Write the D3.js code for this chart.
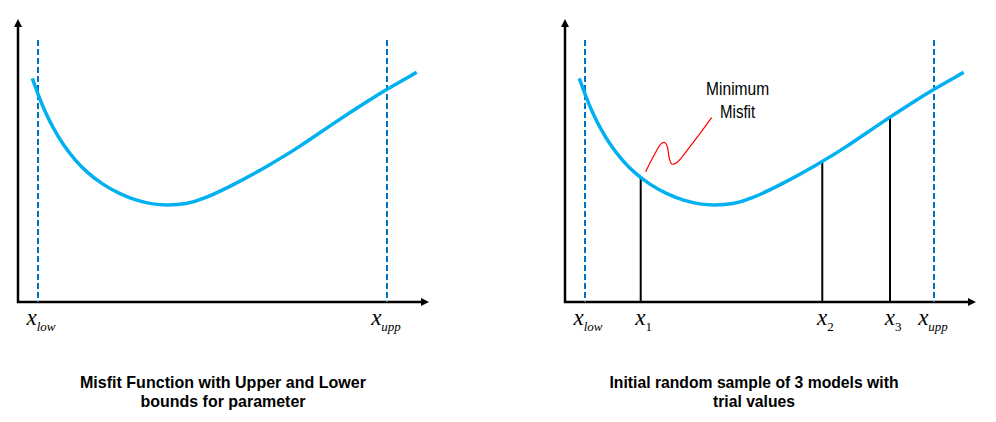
<!DOCTYPE html>
<html>
<head>
<meta charset="utf-8">
<script src="https://cdn.jsdelivr.net/npm/d3@7"></script>
<style>
  body { margin: 0; background: #fff; }
  svg { display: block; }
  .title { font-family: "Liberation Sans Narrow", "Arial Narrow", "Liberation Sans", sans-serif; font-weight: bold; font-size: 17px; fill: #000; }
  .note { font-family: "Liberation Sans Narrow", "Arial Narrow", "Liberation Sans", sans-serif; font-size: 19px; fill: #000; }
  .xlab { font-family: "Liberation Serif", "Times New Roman", serif; fill: #000; }
</style>
</head>
<body>
<div id="chart-container"></div>
<script>
// misfit curve (parameter, misfit)
var paramX  = [0.348, 0.494, 0.657, 0.859, 1.102, 1.387, 1.672, 2.075, 2.482, 2.888, 3.292, 3.618, 4.105, 4.50, 5.238, 6.051, 6.861, 7.672, 8.484, 8.971, 9.701];
var misfitY = [7.933, 7.340, 6.748, 6.160, 5.567, 5.035, 4.599, 4.149, 3.830, 3.592, 3.465, 3.429, 3.475, 3.64, 4.149, 4.798, 5.507, 6.337, 7.103, 7.543, 8.145];

// parameter bounds
var boundX = [0.487, 8.978];
var boundLabels = ["low", "upp"];

// trial models
var sampleX = [1.842, 6.26, 7.908];
var sampleMisfit = [4.43, 4.965, 6.55];
var sampleLabels = ["1", "2", "3"];

// red squiggle pointing at the minimum
var noteX = [1.964, 2.148, 2.353, 2.433, 2.489, 2.538, 2.596, 2.718, 3.041, 3.569];
var noteY = [4.621, 5.152, 5.628, 5.649, 5.507, 5.096, 4.894, 4.940, 5.507, 6.535];
var noteLines = ["Minimum", "Misfit"];

var titles = [
    ["Misfit Function with Upper and Lower", "bounds for parameter"],
    ["Initial random sample of 3 models with", "trial values"]
];

var width = 996,
    height = 422,
    panelLeft = [18, 565],
    originY = 302,
    plotTop = originY - 282;

var xScale = d3.scaleLinear().domain([0, 10]).range([0, 411]);
var yScale = d3.scaleLinear().domain([0, 10]).range([282, 0]);

var curve = paramX.map((x, i) => ({ x: x, y: misfitY[i] }));
var smoothLine = d3.line()
    .x(d => xScale(d.x))
    .y(d => yScale(d.y))
    .curve(d3.curveBasis);
var line = d3.line()
    .x(d => xScale(d.x))
    .y(d => yScale(d.y))
    .curve(d3.curveCatmullRom);

var svg = d3.select("#chart-container").append("svg")
    .attr("width", width)
    .attr("height", height);

// squeeze text to the narrow face of the original
function fitText(sel, w) {
    var len = sel.node().getComputedTextLength();
    if (len > w) sel.attr("textLength", w).attr("lengthAdjust", "spacingAndGlyphs");
}

function xLabel(g, x, main, sub, italicSub) {
    var t = g.append("text")
        .attr("class", "xlab")
        .attr("x", x)
        .attr("y", 325 - plotTop)
        .attr("text-anchor", "middle");
    t.append("tspan").attr("font-style", "italic").attr("font-size", 23).text(main);
    t.append("tspan")
        .attr("font-style", italicSub ? "italic" : "normal")
        .attr("font-size", 13)
        .attr("dy", 6)
        .text(sub);
}

function drawPanel(p) {
    var g = svg.append("g")
        .attr("transform", "translate(" + panelLeft[p] + "," + plotTop + ")");

    // axes with arrow heads
    g.append("line")
        .attr("x1", 0).attr("y1", yScale(0) + 1)
        .attr("x2", 0).attr("y2", 6)
        .attr("stroke", "#000").attr("stroke-width", 2.5);
    g.append("path")
        .attr("d", "M0,-1 L-4,7 L4,7 Z")
        .attr("fill", "#000");
    g.append("line")
        .attr("x1", -1).attr("y1", yScale(0))
        .attr("x2", 404).attr("y2", yScale(0))
        .attr("stroke", "#000").attr("stroke-width", 2.5);
    g.append("path")
        .attr("d", "M411," + yScale(0) + " L403," + (yScale(0) - 4) + " L403," + (yScale(0) + 4) + " Z")
        .attr("fill", "#000");

    // bounds
    g.selectAll(".bound")
        .data(boundX)
        .enter().append("line")
        .attr("class", "bound")
        .attr("x1", d => xScale(d)).attr("x2", d => xScale(d))
        .attr("y1", yScale(9.29)).attr("y2", yScale(0))
        .attr("stroke", "#0070C0")
        .attr("stroke-width", 2)
        .attr("stroke-dasharray", "6,3");

    if (p === 1) {
        g.selectAll(".sample")
            .data(sampleX)
            .enter().append("line")
            .attr("class", "sample")
            .attr("x1", d => xScale(d)).attr("x2", d => xScale(d))
            .attr("y1", (d, i) => yScale(sampleMisfit[i]))
            .attr("y2", yScale(0))
            .attr("stroke", "#000")
            .attr("stroke-width", 2);
    }

    g.append("path")
        .datum(curve)
        .attr("d", smoothLine)
        .attr("fill", "none")
        .attr("stroke", "#00B0F0")
        .attr("stroke-width", 3.5);

    boundX.forEach((b, i) => xLabel(g, xScale(b) + (i === 0 ? 3 : -1), "x", boundLabels[i], true));

    if (p === 1) {
        sampleX.forEach((s, i) => xLabel(g, xScale(s) + 3, "x", sampleLabels[i], false));

        var note = noteX.map((x, i) => ({ x: x, y: noteY[i] }));
        g.append("path")
            .datum(note)
            .attr("d", line)
            .attr("fill", "none")
            .attr("stroke", "#FF0000")
            .attr("stroke-width", 1.2);

        var noteW = [63, 35];
        noteLines.forEach((t, i) => {
            var txt = g.append("text")
                .attr("class", "note")
                .attr("x", xScale(4.2))
                .attr("y", 95 - plotTop + i * 23)
                .attr("text-anchor", "middle")
                .text(t);
            fitText(txt, noteW[i]);
        });
    }

    var titleW = [[286, 165], [289, 82]];
    titles[p].forEach((t, i) => {
        var txt = svg.append("text")
            .attr("class", "title")
            .attr("x", p === 0 ? 223 : 754)
            .attr("y", 388 + i * 19)
            .attr("text-anchor", "middle")
            .text(t);
        fitText(txt, titleW[p][i]);
    });
}

drawPanel(0);
drawPanel(1);
</script>
</body>
</html>
